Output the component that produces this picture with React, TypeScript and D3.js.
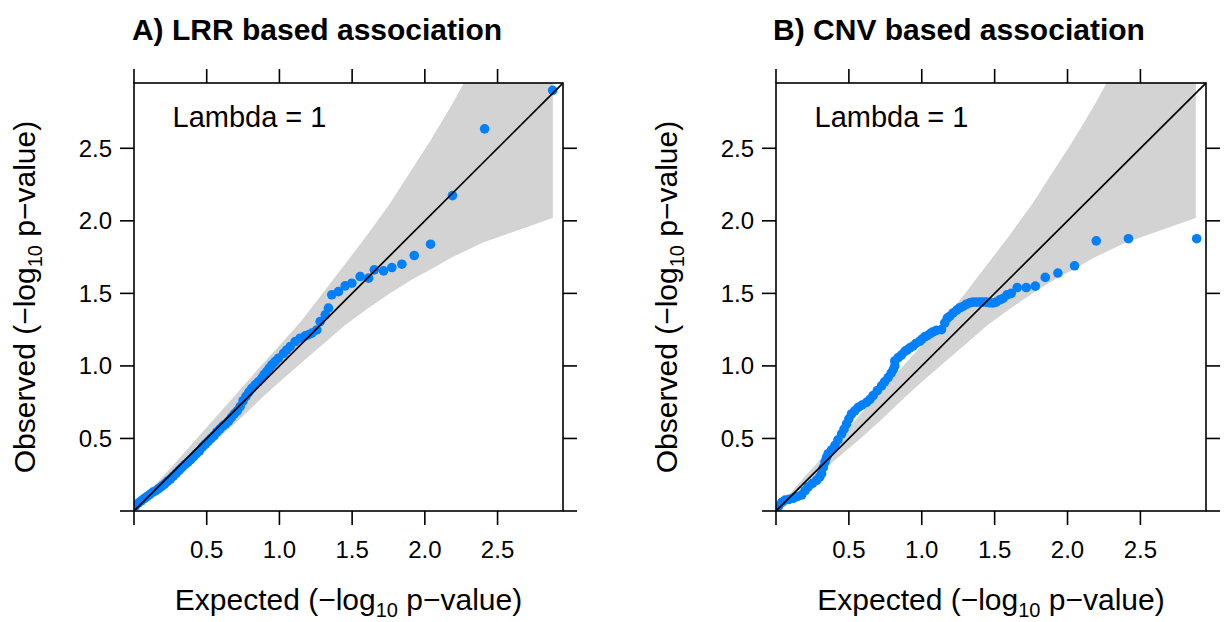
import React from "react";
import * as d3 from "d3";

// ---- data ----
const bandExpected = [0, 0.1, 0.2, 0.3, 0.45, 0.58, 0.75, 0.88, 1.0, 1.15, 1.29, 1.45, 1.6, 1.76, 1.92, 2.03, 2.18, 2.4, 2.88];
const bandLower = [0, 0.08, 0.165, 0.26, 0.39, 0.5, 0.655, 0.78, 0.89, 1.02, 1.14, 1.28, 1.39, 1.5, 1.6, 1.66, 1.745, 1.85, 2.02];
const bandUpper = [0, 0.125, 0.24, 0.35, 0.52, 0.667, 0.86, 1.008, 1.14, 1.31, 1.49, 1.7, 1.897, 2.12, 2.37, 2.54, 2.79, 3.19, 4.17];

const lrrExpected = [0.01, 0.03, 0.05, 0.07, 0.09, 0.11, 0.13, 0.15, 0.17, 0.19, 0.21, 0.23, 0.25, 0.27, 0.29, 0.31, 0.33, 0.35, 0.37, 0.39, 0.41, 0.43, 0.45, 0.47, 0.49, 0.51, 0.53, 0.55, 0.57, 0.59, 0.61, 0.63, 0.65, 0.67, 0.69, 0.71, 0.73, 0.75, 0.77, 0.79, 0.81, 0.833, 0.855, 0.879, 0.895, 0.913, 0.93, 0.948, 0.97, 0.993, 1.028, 1.05, 1.074, 1.108, 1.142, 1.177, 1.2, 1.223, 1.257, 1.28, 1.315, 1.337, 1.36, 1.406, 1.452, 1.498, 1.555, 1.613, 1.652, 1.716, 1.773, 1.842, 1.927, 2.039, 2.19, 2.411, 2.879];
const lrrObserved = [0.035, 0.055, 0.07, 0.085, 0.1, 0.115, 0.13, 0.14, 0.155, 0.17, 0.185, 0.205, 0.22, 0.24, 0.26, 0.28, 0.3, 0.32, 0.335, 0.355, 0.375, 0.395, 0.415, 0.44, 0.46, 0.48, 0.5, 0.52, 0.545, 0.565, 0.585, 0.6, 0.62, 0.645, 0.67, 0.69, 0.72, 0.76, 0.79, 0.82, 0.845, 0.869, 0.89, 0.915, 0.94, 0.961, 0.985, 1.007, 1.03, 1.053, 1.087, 1.11, 1.133, 1.168, 1.191, 1.207, 1.215, 1.226, 1.248, 1.306, 1.352, 1.398, 1.49, 1.512, 1.552, 1.57, 1.616, 1.605, 1.662, 1.655, 1.678, 1.701, 1.761, 1.839, 2.174, 2.634, 2.899];

const cnvExpected = [0.016, 0.04, 0.062, 0.09, 0.118, 0.145, 0.176, 0.2, 0.221, 0.25, 0.279, 0.3, 0.313, 0.325, 0.336, 0.347, 0.358, 0.38, 0.404, 0.425, 0.45, 0.467, 0.484, 0.5, 0.518, 0.54, 0.564, 0.59, 0.621, 0.645, 0.666, 0.695, 0.724, 0.745, 0.769, 0.79, 0.805, 0.815, 0.815, 0.838, 0.86, 0.884, 0.9, 0.918, 0.94, 0.96, 0.986, 1.0, 1.02, 1.04, 1.06, 1.077, 1.1, 1.135, 1.158, 1.175, 1.192, 1.215, 1.24, 1.26, 1.283, 1.306, 1.33, 1.35, 1.375, 1.4, 1.42, 1.443, 1.465, 1.488, 1.51, 1.535, 1.557, 1.585, 1.614, 1.655, 1.717, 1.779, 1.847, 1.934, 2.048, 2.197, 2.418, 2.886];
const cnvObserved = [0.03, 0.06, 0.075, 0.08, 0.087, 0.1, 0.11, 0.14, 0.166, 0.19, 0.212, 0.235, 0.258, 0.3, 0.338, 0.37, 0.395, 0.42, 0.452, 0.49, 0.532, 0.565, 0.6, 0.635, 0.669, 0.69, 0.714, 0.73, 0.749, 0.77, 0.795, 0.83, 0.863, 0.89, 0.92, 0.95, 0.975, 1.0, 1.034, 1.057, 1.075, 1.1, 1.11, 1.125, 1.137, 1.155, 1.17, 1.183, 1.2, 1.21, 1.225, 1.235, 1.245, 1.25, 1.297, 1.33, 1.342, 1.365, 1.385, 1.4, 1.41, 1.425, 1.435, 1.44, 1.44, 1.44, 1.44, 1.44, 1.435, 1.434, 1.44, 1.455, 1.465, 1.49, 1.5, 1.54, 1.54, 1.55, 1.61, 1.64, 1.69, 1.862, 1.877, 1.877];

const tickValues = [0, 0.5, 1.0, 1.5, 2.0, 2.5];
const tickLabels = ["", "0.5", "1.0", "1.5", "2.0", "2.5"];
const titles = ["A) LRR based association", "B) CNV based association"];
const lambdaText = "Lambda = 1";

const FONT = "'Liberation Sans', Arial, Helvetica, sans-serif";
const TICK = 14;

type PanelProps = {
  id: string;
  left: number;
  right: number;
  title: string;
  titleX: number;
  xs: number[];
  ys: number[];
};

function Panel({ id, left, right, title, titleX, xs, ys }: PanelProps) {
  const top = 83;
  const bottom = 511;
  const x = d3.scaleLinear().domain([0, 2.95]).range([left, right]);
  const y = d3.scaleLinear().domain([0, 2.95]).range([bottom, top]);
  const bandData = bandExpected.map((e, i) => ({ e, lo: bandLower[i], up: bandUpper[i] }));
  const area = d3
    .area<{ e: number; lo: number; up: number }>()
    .x((d) => x(d.e))
    .y0((d) => y(d.lo))
    .y1((d) => y(d.up));
  const cx = (left + right) / 2;
  const cy = (top + bottom) / 2;
  return (
    <g>
      <defs>
        <clipPath id={id}>
          <rect x={left} y={top} width={right - left} height={bottom - top} />
        </clipPath>
      </defs>
      <text x={titleX} y={40} textAnchor="middle" fontFamily={FONT} fontWeight="bold" fontSize={30} fill="#000">
        {title}
      </text>
      <g clipPath={`url(#${id})`}>
        <path d={area(bandData) || ""} fill="#D3D3D3" stroke="none" />
        {xs.map((v, i) => (
          <circle key={i} cx={x(v)} cy={y(ys[i])} r={4.8} fill="#0080FF" />
        ))}
        <line x1={x(0)} y1={y(0)} x2={x(2.95)} y2={y(2.95)} stroke="#000" strokeWidth={1.7} />
      </g>
      <rect x={left} y={top} width={right - left} height={bottom - top} fill="none" stroke="#000" strokeWidth={1.6} />
      {tickValues.map((t, i) => (
        <g key={i} stroke="#000" strokeWidth={1.6}>
          <line x1={x(t)} x2={x(t)} y1={bottom} y2={bottom + TICK} />
          <line x1={x(t)} x2={x(t)} y1={top} y2={top - TICK} />
          <line x1={left} x2={left - TICK} y1={y(t)} y2={y(t)} />
          <line x1={right} x2={right + TICK} y1={y(t)} y2={y(t)} />
        </g>
      ))}
      {tickValues.map((t, i) => (
        <text key={"xl" + i} x={x(t)} y={558} textAnchor="middle" fontFamily={FONT} fontSize={24} fill="#000">
          {tickLabels[i]}
        </text>
      ))}
      {tickValues.map((t, i) => (
        <text key={"yl" + i} x={left - 22} y={y(t) + 8.5} textAnchor="end" fontFamily={FONT} fontSize={24} fill="#000">
          {tickLabels[i]}
        </text>
      ))}
      <text x={left + 38.5} y={127} fontFamily={FONT} fontSize={29} fill="#000">
        {lambdaText}
      </text>
      <text x={cx} y={610} textAnchor="middle" fontFamily={FONT} fontSize={30} fill="#000">
        <tspan>Expected (−log</tspan>
        <tspan fontSize={20} dy={7}>10</tspan>
        <tspan dy={-7}> p−value)</tspan>
      </text>
      <text
        transform={`translate(${left - 99},${cy}) rotate(-90)`}
        x={0}
        y={0}
        textAnchor="middle"
        fontFamily={FONT}
        fontSize={30}
        fill="#000"
      >
        <tspan>Observed (−log</tspan>
        <tspan fontSize={20} dy={7}>10</tspan>
        <tspan dy={-7}> p−value)</tspan>
      </text>
    </g>
  );
}

export default function App() {
  return (
    <svg
      width={1227}
      height={622}
      style={{ position: "absolute", left: 0, top: 0, background: "#fff" }}
    >
      <rect x={0} y={0} width={1227} height={622} fill="#fff" />
      <Panel id="clipA" left={134} right={563} title={titles[0]} titleX={317} xs={lrrExpected} ys={lrrObserved} />
      <Panel id="clipB" left={776} right={1206} title={titles[1]} titleX={959} xs={cnvExpected} ys={cnvObserved} />
    </svg>
  );
}
